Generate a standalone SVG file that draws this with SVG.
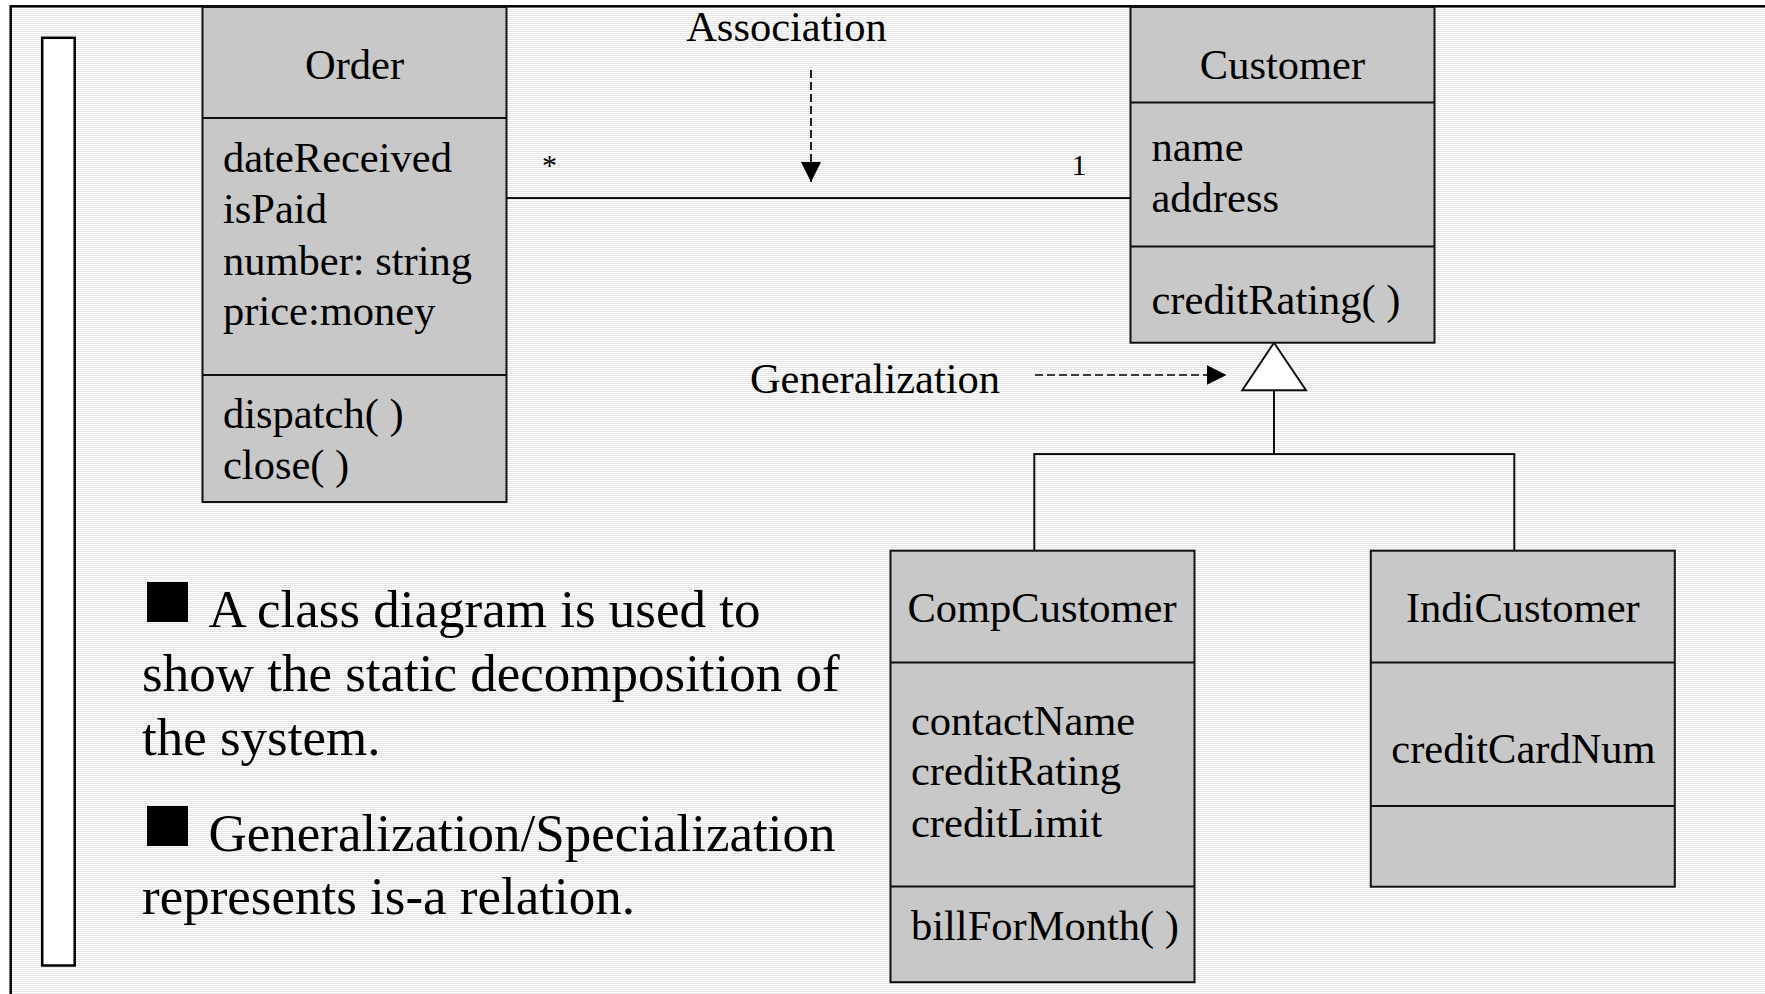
<svg xmlns="http://www.w3.org/2000/svg" width="1765" height="994" viewBox="0 0 1765 994">
  <defs>
    <!-- fine horizontal ruling used as the slide background -->
    <pattern id="ruling" x="0" y="0" width="4" height="2" patternUnits="userSpaceOnUse">
      <rect x="0" y="0" width="4" height="2" fill="#ffffff"/>
      <rect x="0" y="1" width="4" height="1" fill="#e4e4e4"/>
    </pattern>
    <marker id="head" markerUnits="userSpaceOnUse" markerWidth="21" markerHeight="21" refX="20" refY="10" orient="auto" viewBox="0 0 21 21">
      <path d="M0,0 L20,10 L0,20 Z" fill="#000"/>
    </marker>
    <style>
      .box { fill: #c8c8c8; stroke: #111; stroke-width: 2; }
      .sep { stroke: #111; stroke-width: 2; }
      .t { font-family: "Liberation Serif", "Times New Roman", serif; font-size: 42.5px; fill: #000; }
      .mid { text-anchor: middle; }
      .big { font-size: 53px; }
      .small { font-size: 30px; }
      .conn { stroke: #111; stroke-width: 2; fill: none; }
      .dash { stroke: #000; stroke-width: 1.7; stroke-dasharray: 8 4; fill: none; }
      .frame { fill: url(#ruling); stroke: #000; stroke-width: 2.5; }
      .bar { fill: #fff; stroke: #000; stroke-width: 2.5; }
    </style>
  </defs>

  <rect x="0" y="0" width="1765" height="994" fill="#fff"/>

  <!-- slide frame and side bar -->
  <g id="frame">
    <rect class="frame" x="10.7" y="6.3" width="1800" height="1100"/>
    <rect class="bar" x="42.2" y="37.8" width="32.5" height="927.7"/>
  </g>

  <!-- connectors -->
  <g id="connectors">
    <!-- association Order * —— 1 Customer -->
    <line class="conn" x1="506.5" y1="198" x2="1130.5" y2="198"/>
    <!-- generalization tree -->
    <polyline class="conn" points="1034.3,550.7 1034.3,454 1514.3,454 1514.3,550.7"/>
    <line class="conn" x1="1274" y1="390.3" x2="1274" y2="454"/>
    <polygon class="conn" points="1274,342.7 1242.3,390.3 1306,390.3" style="fill:#fff"/>
    <!-- pointer arrows for the labels -->
    <line class="dash" x1="811" y1="70" x2="811" y2="182" marker-end="url(#head)"/>
    <line class="dash" x1="1035" y1="375" x2="1226.5" y2="375" marker-end="url(#head)"/>
  </g>

  <!-- Order class -->
  <g id="order">
    <rect class="box" x="202.5" y="7" width="304" height="495"/>
    <line class="sep" x1="202.5" y1="118" x2="506.5" y2="118"/>
    <line class="sep" x1="202.5" y1="375" x2="506.5" y2="375"/>
    <text class="t mid" x="354.5" y="78.5">Order</text>
    <text class="t" x="223" y="172">dateReceived</text>
    <text class="t" x="223" y="223">isPaid</text>
    <text class="t" x="223" y="275">number: string</text>
    <text class="t" x="223" y="325">price:money</text>
    <text class="t" x="223" y="428">dispatch( )</text>
    <text class="t" x="223" y="479">close( )</text>
  </g>

  <!-- Customer class -->
  <g id="customer">
    <rect class="box" x="1130.5" y="7" width="304" height="335.7"/>
    <line class="sep" x1="1130.5" y1="102.5" x2="1434.5" y2="102.5"/>
    <line class="sep" x1="1130.5" y1="246.5" x2="1434.5" y2="246.5"/>
    <text class="t mid" x="1282.5" y="78.5">Customer</text>
    <text class="t" x="1151.5" y="161">name</text>
    <text class="t" x="1151.5" y="212">address</text>
    <text class="t" x="1151.5" y="314">creditRating( )</text>
  </g>

  <!-- CompCustomer class -->
  <g id="comp-customer">
    <rect class="box" x="890.5" y="550.7" width="304" height="431.5"/>
    <line class="sep" x1="890.5" y1="662.5" x2="1194.5" y2="662.5"/>
    <line class="sep" x1="890.5" y1="886.5" x2="1194.5" y2="886.5"/>
    <text class="t mid" x="1042" y="621.5">CompCustomer</text>
    <text class="t" x="911" y="735">contactName</text>
    <text class="t" x="911" y="785">creditRating</text>
    <text class="t" x="911" y="837">creditLimit</text>
    <text class="t" x="911" y="940">billForMonth( )</text>
  </g>

  <!-- IndiCustomer class -->
  <g id="indi-customer">
    <rect class="box" x="1370.8" y="550.7" width="304" height="336"/>
    <line class="sep" x1="1370.8" y1="662.5" x2="1674.8" y2="662.5"/>
    <line class="sep" x1="1370.8" y1="806" x2="1674.8" y2="806"/>
    <text class="t mid" x="1522.8" y="621.5">IndiCustomer</text>
    <text class="t mid" x="1523.5" y="763">creditCardNum</text>
  </g>

  <!-- relation labels -->
  <g id="labels">
    <text class="t mid" x="786.5" y="40.5">Association</text>
    <text class="t small mid" x="549.5" y="175">*</text>
    <text class="t small mid" x="1079" y="175">1</text>
    <text class="t mid" x="875" y="393">Generalization</text>
  </g>

  <!-- bullet notes -->
  <g id="notes">
    <rect x="147" y="582" width="41" height="40" fill="#000"/>
    <rect x="147" y="806" width="41" height="40" fill="#000"/>
    <text class="t big" x="208.5" y="627">A class diagram is used to</text>
    <text class="t big" x="142" y="691">show the static decomposition of</text>
    <text class="t big" x="142" y="755">the system.</text>
    <text class="t big" x="208.5" y="851">Generalization/Specialization</text>
    <text class="t big" x="142" y="914">represents is-a relation.</text>
  </g>
</svg>
